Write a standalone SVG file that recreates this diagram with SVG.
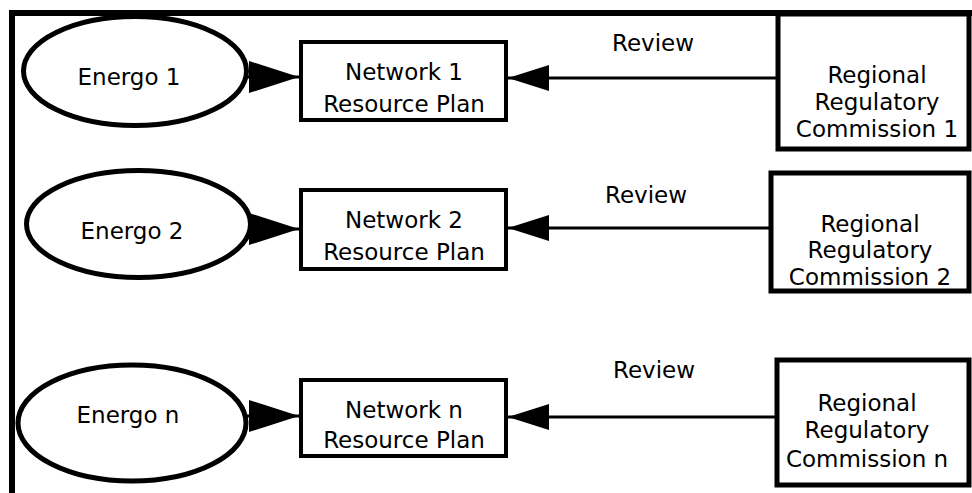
<svg xmlns="http://www.w3.org/2000/svg" width="972" height="493" viewBox="0 0 972 493">
<style>
.frame{fill:none;stroke:#000;stroke-width:6}
.ell{fill:#fff;stroke:#000;stroke-width:5}
.box{fill:#fff;stroke:#000;stroke-width:4}
.cbox{fill:#fff;stroke:#000;stroke-width:5}
.conn{fill:none;stroke:#000;stroke-width:3}
text{font-family:"DejaVu Sans","Open Sans",sans-serif;font-size:23px;fill:#000;text-anchor:middle}
</style>
<defs>
<marker id="bigHead" markerUnits="userSpaceOnUse" markerWidth="51" markerHeight="34" refX="50" refY="17" orient="auto">
<path d="M0,1 L50,17 L0,33 z" fill="#000"/>
</marker>
<marker id="smallHead" markerUnits="userSpaceOnUse" markerWidth="42" markerHeight="28" refX="41" refY="14" orient="auto">
<path d="M0,1 L41,14 L0,27 z" fill="#000"/>
</marker>
</defs>
<rect width="972" height="493" fill="#fff"/>
<g id="frame">
<path class="frame" d="M12,493 V13 H972"/>
</g>
<g id="connectors">
<line class="conn" x1="246" y1="77" x2="299" y2="77" marker-end="url(#bigHead)"/>
<line class="conn" x1="249" y1="229" x2="299" y2="229" marker-end="url(#bigHead)"/>
<line class="conn" x1="246" y1="416" x2="299" y2="416" marker-end="url(#bigHead)"/>
<line class="conn" x1="776" y1="78" x2="508" y2="78" marker-end="url(#smallHead)"/>
<line class="conn" x1="769" y1="228" x2="508" y2="228" marker-end="url(#smallHead)"/>
<line class="conn" x1="776" y1="417" x2="508" y2="417" marker-end="url(#smallHead)"/>
<text x="653" y="51">Review</text>
<text x="646" y="203">Review</text>
<text x="654" y="378">Review</text>
</g>
<g id="energo1">
<ellipse class="ell" cx="135" cy="71" rx="111.5" ry="54.5"/>
<text x="129" y="85">Energo 1</text>
</g>
<g id="energo2">
<ellipse class="ell" cx="138.5" cy="224" rx="112" ry="53.5"/>
<text x="132" y="239">Energo 2</text>
</g>
<g id="energon">
<ellipse class="ell" cx="132" cy="423" rx="114" ry="58"/>
<text x="128" y="423">Energo n</text>
</g>
<g id="network1">
<rect class="box" x="301" y="42" width="205" height="78"/>
<text x="404" y="80">Network 1</text>
<text x="404" y="112">Resource Plan</text>
</g>
<g id="network2">
<rect class="box" x="301" y="190" width="205" height="79"/>
<text x="404" y="228">Network 2</text>
<text x="404" y="260">Resource Plan</text>
</g>
<g id="networkn">
<rect class="box" x="301" y="380" width="205" height="76"/>
<text x="404" y="418">Network n</text>
<text x="404" y="448">Resource Plan</text>
</g>
<g id="commission1">
<rect class="cbox" x="778" y="14" width="191" height="135"/>
<text x="877" y="83">Regional</text>
<text x="877" y="110">Regulatory</text>
<text x="877" y="137">Commission 1</text>
</g>
<g id="commission2">
<rect class="cbox" x="771" y="173" width="198" height="118"/>
<text x="870" y="232">Regional</text>
<text x="870" y="258">Regulatory</text>
<text x="870" y="285">Commission 2</text>
</g>
<g id="commissionn">
<rect class="cbox" x="777" y="360" width="192" height="125"/>
<text x="867" y="411">Regional</text>
<text x="867" y="438">Regulatory</text>
<text x="867" y="467">Commission n</text>
</g>
</svg>
